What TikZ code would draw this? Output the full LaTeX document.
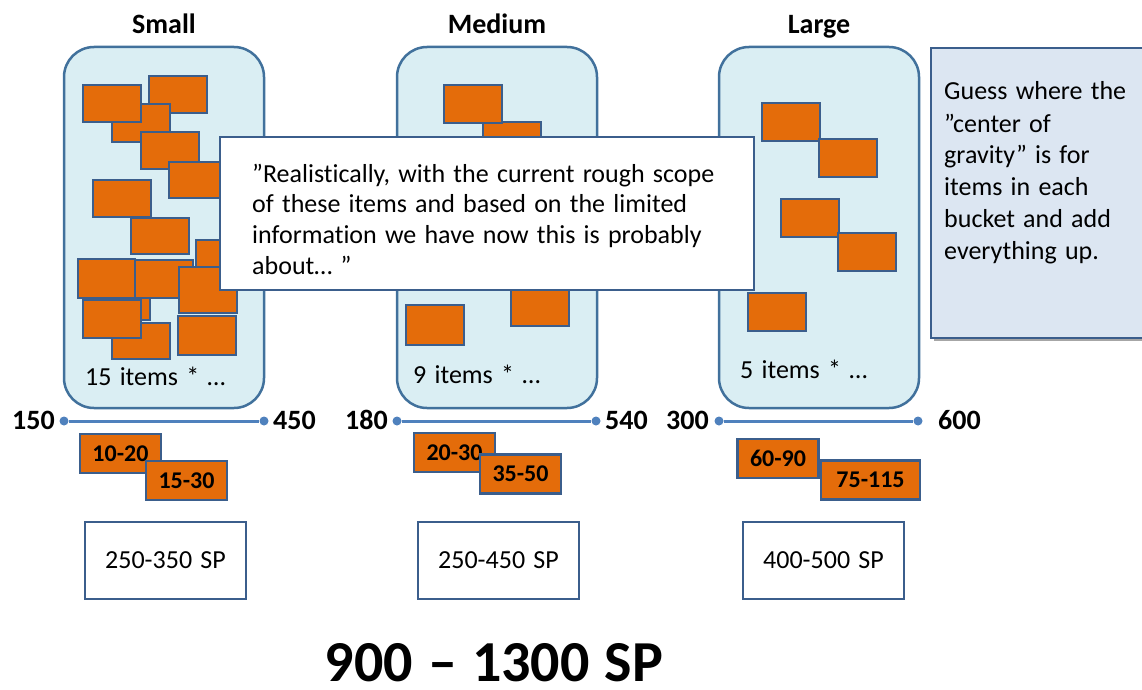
\documentclass[tikz,border=0pt]{standalone}
\usepackage{fontspec}
\setmainfont[Ligatures=NoCommon, WordSpace=1.4]{Carlito}
\newfontfamily\totfont[WordSpace=1.15]{Carlito}
\definecolor{bucketfill}{HTML}{DAEEF3}
\definecolor{bucketline}{HTML}{41719C}
\definecolor{itemfill}{HTML}{E46C0A}
\definecolor{itemline}{HTML}{3B5E8C}
\definecolor{axisblue}{HTML}{4F81BD}
\definecolor{notefill}{HTML}{DCE6F2}
\newcommand\txtbody{\fontsize{26}{31}\selectfont}
\newcommand\txtlabel{\fontsize{28}{34}\selectfont\bfseries}
\newcommand\txttag{\fontsize{24}{29}\selectfont\bfseries}
\tikzset{
  bucket/.style={draw=bucketline, fill=bucketfill, line width=2.5pt, rounded corners=30pt},
  item/.style={draw=itemline, fill=itemfill, line width=2.5pt},
  tag/.style={draw=itemline, fill=itemfill, line width=2.5pt, minimum width=81pt, minimum height=39pt, inner sep=0pt, font=\txttag},
  spbox/.style={draw=itemline, fill=white, line width=2.5pt, minimum width=161pt, minimum height=77pt, inner sep=0pt, font=\txtbody},
  callout/.style={draw=itemline, fill=white, line width=2.5pt},
  note/.style={draw=itemline, fill=notefill, line width=2.5pt},
  txt/.style={inner sep=0pt, font=\txtbody, anchor=base west},
  lbl/.style={inner sep=0pt, font=\txtlabel},
  dot/.style={circle, fill=axisblue, inner sep=0pt, minimum size=9pt},
  numline/.style={draw=axisblue, line width=3pt}
}
\begin{document}
\begin{tikzpicture}[x=1pt,y=-1pt]
\useasboundingbox (0,0) rectangle (1142,690);

% titles
\node[lbl, anchor=base] (tS) at (164,34) {Small};
\node[lbl, anchor=base] (tM) at (497,34) {Medium};
\node[lbl, anchor=base] (tL) at (819,34) {Large};

% buckets
\draw[bucket] (64,47) rectangle (264,408);
\draw[bucket] (397,47) rectangle (597,408);
\draw[bucket] (719,47) rectangle (919,408);

% small bucket items
\foreach \a/\b/\c/\d in {149/76/207/113, 112/104/170/142, 83/85/141/122, 141/132/199/169,
  169/162/227/198, 93/180/151/217, 131/218/189/254, 196/240/254/278, 92/282/150/320,
  135/260/193/298, 78/259/135/298, 179/267/237/313, 112/323/170/359, 83/300/141/338,
  178/316/236/355}
  \draw[item] (\a,\b) rectangle (\c,\d);

% medium bucket items
\foreach \a/\b/\c/\d in {483/122/541/160, 444/85/502/123, 511/288/569/326, 406/305/464/345}
  \draw[item] (\a,\b) rectangle (\c,\d);

% large bucket items
\foreach \a/\b/\c/\d in {762/103/820/141, 819/139/877/177, 781/199/839/237, 838/233/896/271, 748/293/806/331}
  \draw[item] (\a,\b) rectangle (\c,\d);

% item counts
\node[txt] (nS) at (85,385) {15 items * …};
\node[txt] (nM) at (413,383) {9 items * …};
\node[txt] (nL) at (740,378) {5 items * …};

% callout
\draw[callout] (220,137) rectangle (754,290);
\node[txt] (c1) at (252,182) {”Realistically, with the current rough scope};
\node[txt] (c2) at (252,212.7) {of these items and based on the limited};
\node[txt] (c3) at (252,243.4) {information we have now this is probably};
\node[txt] (c4) at (252,274) {about… ”};

% note box
\fill[black!35] (934,51) rectangle (1150,341);
\draw[note] (931,48) rectangle (1150,338);
\node[txt] (g1) at (944,100) {Guess where the};
\node[txt] (g2) at (944,132) {”center of};
\node[txt] (g3) at (944,163) {gravity” is for};
\node[txt] (g4) at (944,195) {items in each};
\node[txt] (g5) at (944,227) {bucket and add};
\node[txt] (g6) at (944,259) {everything up.};

% number lines
\node[dot] (sa) at (64,421) {};
\node[dot] (sb) at (264,421) {};
\node[dot] (ma) at (397,421) {};
\node[dot] (mb) at (596,421) {};
\node[dot] (la) at (719,421) {};
\node[dot] (lb) at (918,421) {};
\draw[numline] (sa) -- (sb);
\draw[numline] (ma) -- (mb);
\draw[numline] (la) -- (lb);
\node[lbl, anchor=base east] (v1) at (55,429) {150};
\node[lbl, anchor=base west] (v2) at (273,429) {450};
\node[lbl, anchor=base east] (v3) at (388,429) {180};
\node[lbl, anchor=base west] (v4) at (605,429) {540};
\node[lbl, anchor=base east] (v5) at (709,429) {300};
\node[lbl, anchor=base west] (v6) at (938,429) {600};

% range tags
\node[tag] (r1) at (120.5,453.5) {10-20};
\node[tag] (r2) at (186.5,480.5) {15-30};
\node[tag] (r3) at (454.5,452.5) {20-30};
\node[tag] (r4) at (520.5,474) {35-50};
\node[tag] (r5) at (778,458.5) {60-90};
\node[tag, minimum width=99pt] (r6) at (870.5,480) {75-115};

% SP boxes
\node[spbox] (p1) at (165.5,560.5) {250-350 SP};
\node[spbox] (p2) at (498.5,560.5) {250-450 SP};
\node[spbox] (p3) at (823.5,560.5) {400-500 SP};

% total
\node[inner sep=0pt, anchor=base, font=\totfont\fontsize{58}{60}\selectfont\bfseries] (tot) at (494,681) {900 – 1300 SP};
\end{tikzpicture}
\end{document}
